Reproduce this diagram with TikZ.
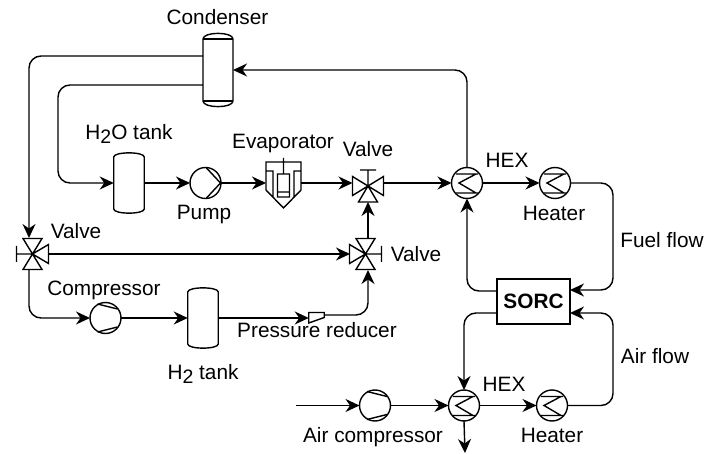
\documentclass[tikz,border=0pt]{standalone}
\usepackage{fontspec}
\setmainfont{Liberation Sans}
\usetikzlibrary{arrows.meta}

\newcommand{\labelfont}{\fontsize{20.8}{24}\selectfont}
\newcommand{\lowtwo}{\raisebox{-4pt}{\fontsize{19.5}{20}\selectfont 2}}

\newcommand{\drawtank}[2]{
  \draw ([yshift=-#2pt]#1.north west) .. controls ([yshift=1.5pt]#1.north west) and ([yshift=1.5pt]#1.north east) .. ([yshift=-#2pt]#1.north east)
    -- ([yshift=#2pt]#1.south east) .. controls ([yshift=-1.5pt]#1.south east) and ([yshift=-1.5pt]#1.south west) .. ([yshift=#2pt]#1.south west) -- cycle;
}
\newcommand{\drawvalve}[2]{
  \draw[shift={(#1.center)}, rotate=#2] (-15.5, -9.5) -- (15.5, 9.5) -- (15.5, -9.5) -- (-15.5, 9.5) -- cycle
    (0, 0) -- (-9.5, 16) -- (9.5, 16) -- cycle
    (0, 0) -- (0, -16) (-8, -16) -- (8, -16);
}
\newcommand{\drawhex}[1]{
  \draw[shift={(#1.center)}] (-11, -9) -- (11, -9) (-11, 10) -- (11, 10) (9, -9) -- (-8, 0) -- (9, 10);
}
\newcommand{\drawcomp}[1]{
  \draw[shift={(#1.center)}] (-8, -14) -- (12, -9) (-8, 14) -- (12, 9);
}

\tikzset{
  round/.style = {circle, draw, minimum size = 31pt, inner sep = 0pt, outer sep = 0pt},
  slot/.style = {rectangle, minimum width = #1, inner sep = 0pt, outer sep = 0pt},
  tag/.style = {anchor = base, inner sep = 0pt, font = \labelfont},
}

\begin{document}
\begin{tikzpicture}[x = 1pt, y = -1pt, line width = 1.4pt, >={Stealth[length = 14pt, width = 13pt, inset = 4.5pt]}]
        \useasboundingbox (0, 0) rectangle (705, 454);

        \node[slot = 30pt, minimum height = 74pt] (condenser) at (218, 70) {};
        \node[slot = 30.5pt, minimum height = 60pt] (waterTank) at (129, 183) {};
        \node[round] (pump) at (205.5, 183) {};
        \node[slot = 35pt, minimum height = 46pt] (evapNode) at (283.5, 183) {};
        \node[slot = 31pt, minimum height = 32pt] (topValve) at (368, 186) {};
        \node[slot = 31pt, minimum height = 32pt] (leftValve) at (32.5, 254) {};
        \node[slot = 31pt, minimum height = 32pt] (rightValve) at (365.5, 254) {};
        \node[round] (compressor) at (105.5, 318) {};
        \node[slot = 30.5pt, minimum height = 60pt] (hydroTank) at (203, 318) {};
        \node[slot = 15.5pt, minimum height = 11pt] (reducer) at (316.5, 318) {};
        \node[round] (hexFuel) at (467, 183) {};
        \node[round] (heaterFuel) at (555, 183) {};
        \node[rectangle, draw, minimum width = 73pt, minimum height = 45pt, inner sep = 0pt, outer sep = 0pt, font = \labelfont\bfseries] (sorc) at (533.5, 301.5) {SORC};
        \node[round] (airComp) at (375, 405.5) {};
        \node[round] (hexAir) at (464, 405.5) {};
        \node[round] (heaterAir) at (552, 405.5) {};

        \coordinate (waterBend) at (58, 183);
        \coordinate (fuelBend) at (613, 290);
        \coordinate (airBend) at (613, 313);
        \coordinate (airIn) at (296, 405.5);
        \coordinate (exhaust) at (465, 453);

        \drawtank{condenser}{6}
        \draw ([yshift=-6pt]condenser.north west) -- ([yshift=-6pt]condenser.north east);
        \draw ([yshift=6pt]condenser.south west) -- ([yshift=6pt]condenser.south east);
        \drawtank{waterTank}{4}
        \drawtank{hydroTank}{4}
        \draw[shift={(pump.center)}] (1, -15) -- (15, 0) -- (1, 15);
        \draw[shift={(evapNode.center)}] (-17.5, -21) -- (17.5, -21) -- (17.5, 7) -- (0, 25) -- (-17.5, 7) -- cycle
          (0, -25) -- (0, -9)
          (-17.5, -12) -- (-10.5, -12) -- (-10.5, 15) (17.5, -12) -- (10.5, -12) -- (10.5, 15)
          (-6, -9) rectangle (6, 14)
          (-6, 9) -- (6, 9);
        \drawvalve{topValve}{0}
        \drawvalve{leftValve}{90}
        \drawvalve{rightValve}{-90}
        \drawcomp{compressor}
        \draw (reducer.north west) -- (reducer.north east) -- ([yshift=-5pt]reducer.north east) -- ([yshift=0.5pt]reducer.south west) -- cycle;
        \drawhex{hexFuel}
        \drawhex{heaterFuel}
        \drawcomp{airComp}
        \drawhex{hexAir}
        \drawhex{heaterAir}

        \node[tag] (condenserTag) at (217.5, 25) {Condenser};
        \node[tag] (waterTag) at (129, 140) {H\lowtwo O tank};
        \node[tag] (pumpTag) at (204, 220) {Pump};
        \node[tag] (evapTag) at (283, 149) {Evaporator};
        \node[tag] (topValveTag) at (368, 157) {Valve};
        \node[tag] (leftValveTag) at (76, 239) {Valve};
        \node[tag] (rightValveTag) at (416, 262) {Valve};
        \node[tag] (compTag) at (104, 296) {Compressor};
        \node[tag] (hydroTag) at (203, 380) {H\lowtwo{} tank};
        \node[tag] (reducerTag) at (317, 338) {Pressure reducer};
        \node[tag] (hexFuelTag) at (507, 168) {HEX};
        \node[tag] (heaterFuelTag) at (554, 221) {Heater};
        \node[tag] (fuelTag) at (662, 248) {Fuel flow};
        \node[tag] (airTag) at (655, 364) {Air flow};
        \node[tag] (hexAirTag) at (504, 392) {HEX};
        \node[tag] (heaterAirTag) at (552, 443) {Heater};
        \node[tag] (airCompTag) at (373, 443) {Air compressor};

        \draw[->, rounded corners = 12pt] ([yshift=14pt]condenser.west) -| ([xshift=-3.5pt]leftValve.north);
        \draw[->, rounded corners = 12pt] ([yshift=-15pt]condenser.west) -| (waterBend) -- (waterTank.west);
        \draw (waterTank) edge[->] (pump);
        \draw (pump) edge[->] (evapNode);
        \draw[->] (evapNode.east) -- ([yshift=3pt]topValve.west);
        \draw[->] ([yshift=3pt]topValve.east) -- (hexFuel.west);
        \draw[->, rounded corners = 12pt] (hexFuel.north) |- (condenser.east);
        \draw (hexFuel) edge[->] (heaterFuel);
        \draw[->, rounded corners = 12pt] (heaterFuel.east) -| (fuelBend) -- ([yshift=11.5pt]sorc.east);
        \draw[->, rounded corners = 12pt] ([yshift=10.5pt]sorc.west) -| (hexFuel.south);
        \draw[->, rounded corners = 12pt] ([yshift=-11.5pt]sorc.west) -| (hexAir.north);
        \draw[->, rounded corners = 12pt] (heaterAir.east) -| (airBend) -- ([yshift=-11.5pt]sorc.east);
        \draw (leftValve) edge[->] (rightValve);
        \draw[->] ([xshift=2.5pt]rightValve.north) -- (topValve.south);
        \draw[->, rounded corners = 12pt] ([xshift=-3.5pt]leftValve.south) |- (compressor.west);
        \draw (compressor) edge[->] (hydroTank);
        \draw (hydroTank) edge[->] (reducer);
        \draw[->, rounded corners = 12pt] ([yshift=3pt]reducer.east) -| ([xshift=2.5pt]rightValve.south);
        \draw (airIn) edge[->] (airComp);
        \draw (airComp) edge[->] (hexAir);
        \draw (hexAir) edge[->] (heaterAir);
        \draw[->] (hexAir.south) -- (exhaust);
      \end{tikzpicture}
\end{document}
